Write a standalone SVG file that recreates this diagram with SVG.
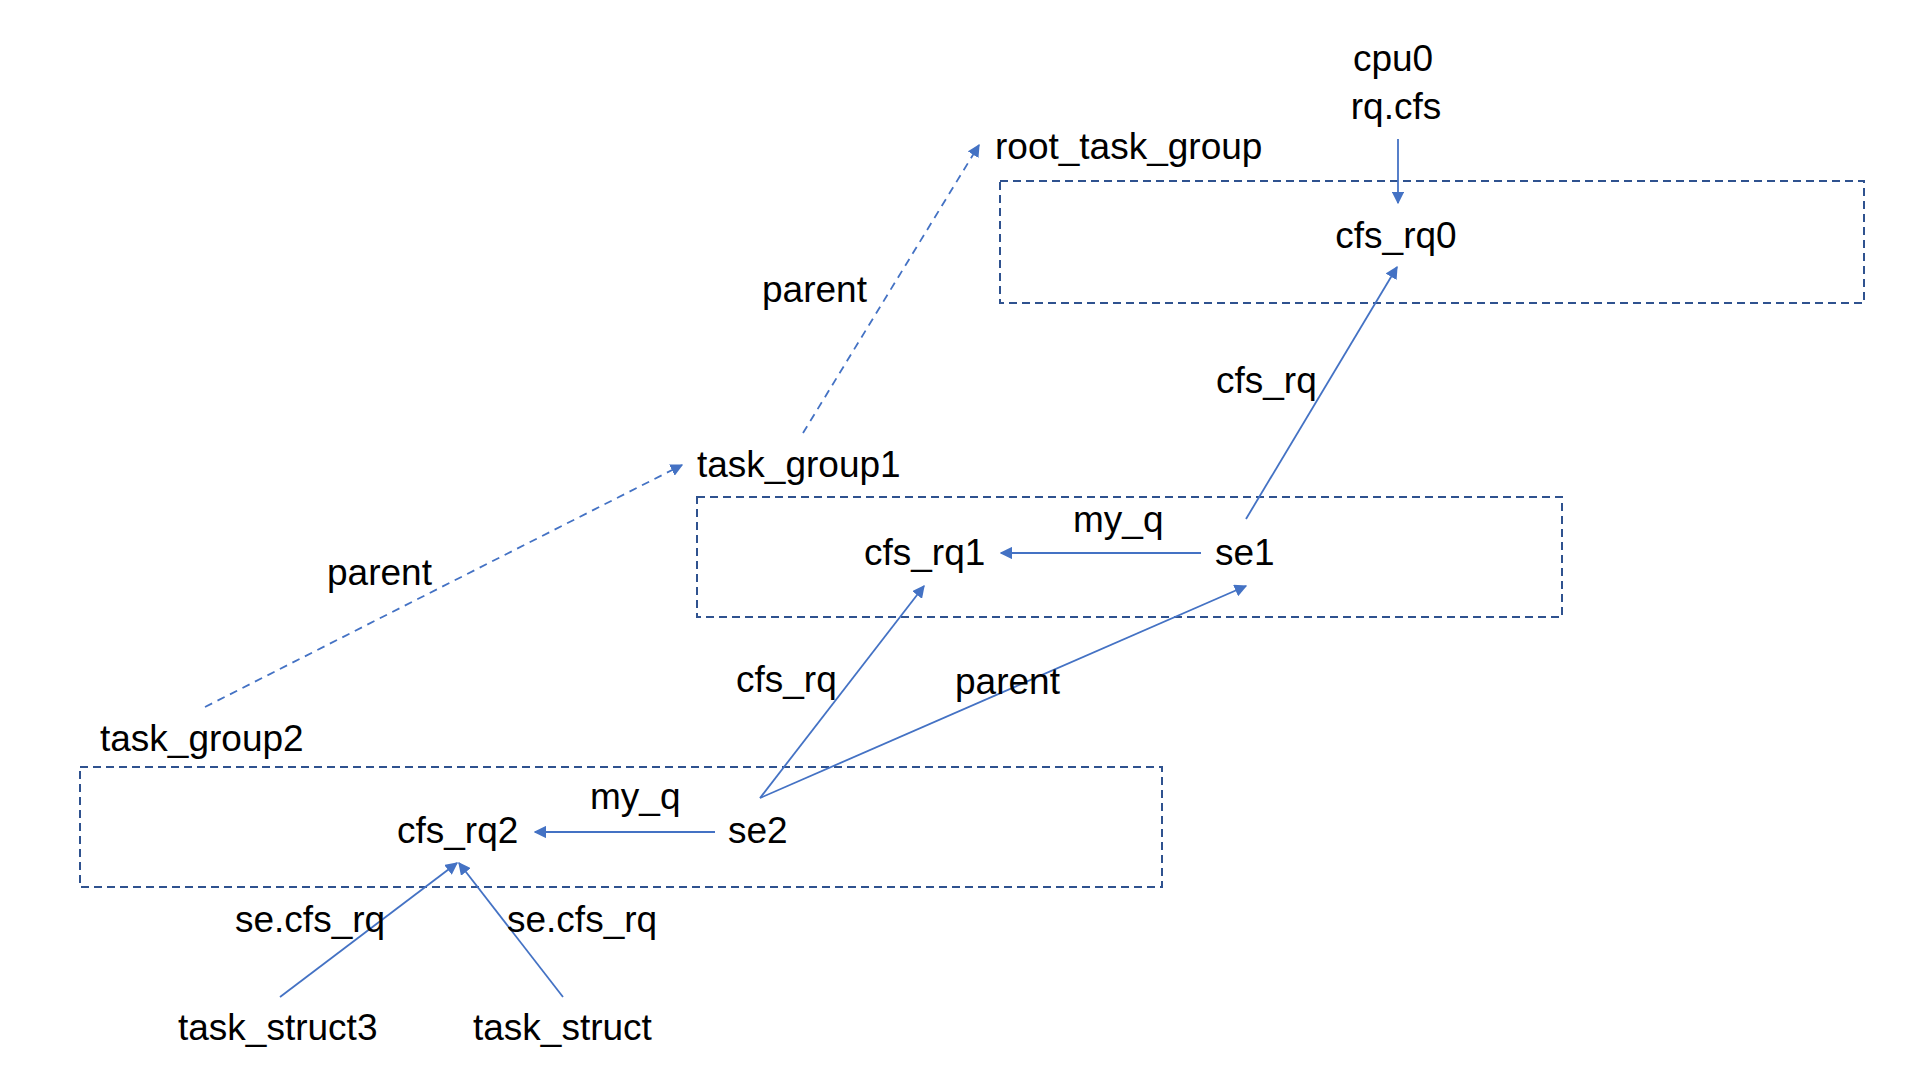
<svg xmlns="http://www.w3.org/2000/svg" width="1928" height="1080" viewBox="0 0 1928 1080">
<style>
  text { font-family: "Liberation Sans", Arial, sans-serif; font-size: 37px; fill: #000; }
  .box { fill: none; stroke: #2F528F; stroke-width: 2; stroke-dasharray: 8 5; }
  .arr { fill: none; stroke: #4472C4; stroke-width: 1.8; marker-end: url(#ah); }
  .dash { fill: none; stroke: #4472C4; stroke-width: 1.8; stroke-dasharray: 8 6; marker-end: url(#ah); }
</style>
<defs>
  <marker id="ah" viewBox="0 0 10 10" refX="9" refY="5" markerWidth="7" markerHeight="7" markerUnits="strokeWidth" orient="auto">
    <path d="M0,0 L10,5 L0,10 z" fill="#4472C4"/>
  </marker>
</defs>
<rect width="1928" height="1080" fill="#fff"/>

<g id="root_task_group">
  <rect class="box" x="1000" y="181" width="864" height="122"/>
  <text x="995" y="159">root_task_group</text>
  <text x="1396" y="248" text-anchor="middle">cfs_rq0</text>
</g>
<g id="cpu0">
  <text x="1393" y="71" text-anchor="middle">cpu0</text>
  <text x="1396" y="119" text-anchor="middle">rq.cfs</text>
</g>
<g id="task_group1">
  <rect class="box" x="697" y="497" width="865" height="120"/>
  <text x="697" y="477">task_group1</text>
  <text x="864" y="565">cfs_rq1</text>
  <text x="1215" y="565">se1</text>
</g>
<g id="task_group2">
  <rect class="box" x="80" y="767" width="1082" height="120"/>
  <text x="100" y="751">task_group2</text>
  <text x="397" y="843">cfs_rq2</text>
  <text x="728" y="843">se2</text>
</g>
<g id="task_struct3">
  <text x="178" y="1040">task_struct3</text>
</g>
<g id="task_struct">
  <text x="473" y="1040">task_struct</text>
</g>

<g id="connectors">
  <line class="arr" x1="1398" y1="139" x2="1398" y2="203"/>
  <line class="dash" x1="803" y1="433" x2="979" y2="145"/>
  <line class="dash" x1="205" y1="707" x2="682" y2="465"/>
  <line class="arr" x1="1246" y1="519" x2="1397" y2="267"/>
  <line class="arr" x1="1201" y1="553" x2="1001" y2="553"/>
  <line class="arr" x1="760" y1="798" x2="924" y2="586"/>
  <line class="arr" x1="760" y1="798" x2="1246" y2="586"/>
  <line class="arr" x1="715" y1="832" x2="535" y2="832"/>
  <line class="arr" x1="280" y1="997" x2="457" y2="863"/>
  <line class="arr" x1="563" y1="997" x2="459" y2="863"/>
  <text x="762" y="302">parent</text>
  <text x="1216" y="393">cfs_rq</text>
  <text x="1073" y="532">my_q</text>
  <text x="327" y="585">parent</text>
  <text x="736" y="692">cfs_rq</text>
  <text x="955" y="694">parent</text>
  <text x="590" y="809">my_q</text>
  <text x="235" y="932">se.cfs_rq</text>
  <text x="507" y="932">se.cfs_rq</text>
</g>
</svg>
